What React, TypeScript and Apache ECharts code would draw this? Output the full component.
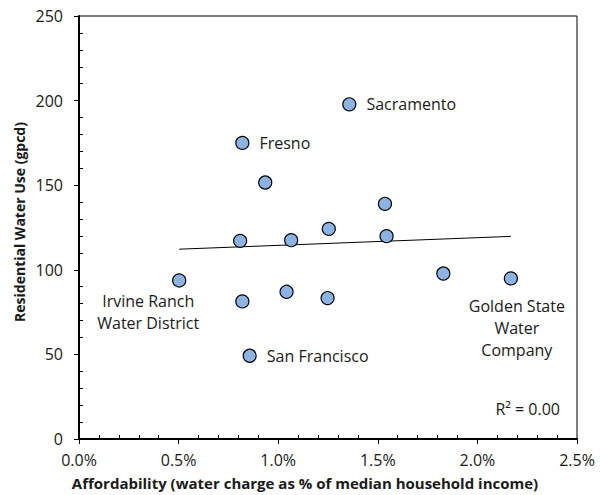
import React, { useEffect, useRef } from "react";
import * as echarts from "echarts";

// Water charge as % of median household income
const affordability = [1.357, 0.82, 0.935, 1.536, 0.809, 1.065, 1.254, 1.544, 1.829, 2.168, 0.503, 0.82, 1.042, 1.248, 0.857];
// Residential water use, gallons per capita per day
const waterUse = [197.8, 175.0, 151.6, 139.0, 117.1, 117.5, 124.2, 119.9, 97.8, 94.9, 93.7, 81.3, 87.0, 83.3, 49.2];
// Utility names (blank = unlabelled point)
const utilityNames = [
  "Sacramento", "Fresno", "", "", "", "", "", "", "",
  "Golden State\nWater\nCompany", "Irvine Ranch\nWater District", "", "", "", "San Francisco",
];

const xTicks = { min: 0, max: 2.5, interval: 0.5 };
const yTicks = { min: 0, max: 250, interval: 50 };

const FONT = "'Open Sans', 'Noto Sans', sans-serif";

// label placement per named utility
const labelPlacement: Record<string, any> = {
  Sacramento: { position: "right", distance: 10 },
  Fresno: { position: "right", distance: 10 },
  "San Francisco": { position: "right", distance: 10 },
  "Irvine Ranch\nWater District": { position: "inside", offset: [-31, 32], align: "center" },
  "Golden State\nWater\nCompany": { position: "inside", offset: [6, 50], align: "center" },
};

// ordinary least squares fit for the trendline
function linearFit(xs: number[], ys: number[]) {
  const n = xs.length;
  const mx = xs.reduce((a, b) => a + b, 0) / n;
  const my = ys.reduce((a, b) => a + b, 0) / n;
  let sxy = 0, sxx = 0, syy = 0;
  for (let i = 0; i < n; i++) {
    sxy += (xs[i] - mx) * (ys[i] - my);
    sxx += (xs[i] - mx) ** 2;
    syy += (ys[i] - my) ** 2;
  }
  const slope = sxy / sxx;
  const intercept = my - slope * mx;
  const r2 = (sxy * sxy) / (sxx * syy);
  return { slope, intercept, r2 };
}

export default function App() {
  const ref = useRef<HTMLDivElement>(null);

  useEffect(() => {
    if (!ref.current) return;
    document.body.style.margin = "0";
    const chart = echarts.init(ref.current, null, { renderer: "svg" });

    const fit = linearFit(affordability, waterUse);
    const xMin = Math.min(...affordability);
    const xMax = Math.max(...affordability);
    const trend = [
      [xMin, fit.intercept + fit.slope * xMin],
      [xMax, fit.intercept + fit.slope * xMax],
    ];

    const points = affordability.map((x, i) => {
      const name = utilityNames[i];
      const item: any = { value: [x, waterUse[i]], name };
      if (name) {
        const p = labelPlacement[name];
        item.label = {
          show: true,
          formatter: name,
          position: p.position,
          distance: p.distance,
          offset: p.offset,
          align: p.align,
          verticalAlign: "middle",
          fontFamily: FONT,
          fontSize: 16,
          lineHeight: 22,
          color: "#1a1a1a",
        };
      }
      return item;
    });

    const axisLabelStyle = { fontFamily: FONT, fontSize: 16, color: "#1a1a1a" };

    chart.setOption({
      animation: false,
      backgroundColor: "#ffffff",
      grid: {
        left: 79,
        right: 29,
        top: 16,
        bottom: 56,
        show: true,
        borderColor: "#000",
        borderWidth: 1,
        containLabel: false,
      },
      xAxis: [
        {
          type: "value",
          position: "bottom",
          min: xTicks.min,
          max: xTicks.max,
          interval: xTicks.interval,
          axisLine: { show: true, onZero: false, lineStyle: { color: "#000", width: 2 } },
          axisTick: { show: true, inside: false, length: 5, lineStyle: { color: "#000", width: 1 } },
          axisLabel: { ...axisLabelStyle, margin: 13, formatter: (v: number) => v.toFixed(1) + "%" },
          splitLine: { show: false },
        },
        {
          type: "value",
          position: "bottom",
          min: xTicks.min,
          max: xTicks.max,
          interval: xTicks.interval,
          axisLine: { show: false },
          axisTick: { show: false, inside: true },
          minorTick: { show: true, splitNumber: 5, length: 4, lineStyle: { color: "#000", width: 1 } },
          axisLabel: { show: false },
          splitLine: { show: false },
        },
      ],
      yAxis: [
        {
          type: "value",
          position: "left",
          min: yTicks.min,
          max: yTicks.max,
          interval: yTicks.interval,
          axisLine: { show: true, onZero: false, lineStyle: { color: "#000", width: 2 } },
          axisTick: { show: true, inside: false, length: 5, lineStyle: { color: "#000", width: 1 } },
          axisLabel: { ...axisLabelStyle, margin: 16 },
          splitLine: { show: false },
        },
        {
          type: "value",
          position: "left",
          min: yTicks.min,
          max: yTicks.max,
          interval: yTicks.interval,
          axisLine: { show: false },
          axisTick: { show: false, inside: true },
          minorTick: { show: true, splitNumber: 5, length: 4, lineStyle: { color: "#000", width: 1 } },
          axisLabel: { show: false },
          splitLine: { show: false },
        },
      ],
      series: [
        {
          type: "line",
          xAxisIndex: 0,
          yAxisIndex: 0,
          data: trend,
          symbol: "none",
          lineStyle: { color: "#000", width: 1 },
          silent: true,
          z: 2,
        },
        {
          type: "scatter",
          xAxisIndex: 0,
          yAxisIndex: 0,
          data: points,
          symbol: "circle",
          symbolSize: 13,
          itemStyle: { color: "#8DB3E2", borderColor: "#000", borderWidth: 1.2, opacity: 1 },
          z: 3,
        },
      ],
      graphic: [
        {
          type: "text",
          x: 305,
          y: 483,
          style: {
            text: "Affordability (water charge as % of median household income)",
            font: `bold 15px ${FONT}`,
            fill: "#1a1a1a",
            align: "center",
            verticalAlign: "middle",
          },
        },
        {
          type: "text",
          x: 19,
          y: 222,
          rotation: Math.PI / 2,
          style: {
            text: "Residential Water Use (gpcd)",
            font: `bold 14px ${FONT}`,
            fill: "#1a1a1a",
            align: "center",
            verticalAlign: "middle",
          },
        },
        {
          type: "text",
          x: 560,
          y: 409,
          style: {
            text: `R² = ${fit.r2.toFixed(2)}`,
            font: `16px ${FONT}`,
            fill: "#1a1a1a",
            align: "right",
            verticalAlign: "middle",
          },
        },
      ],
    });

    return () => chart.dispose();
  }, []);

  return <div ref={ref} style={{ width: 606, height: 495 }} />;
}
